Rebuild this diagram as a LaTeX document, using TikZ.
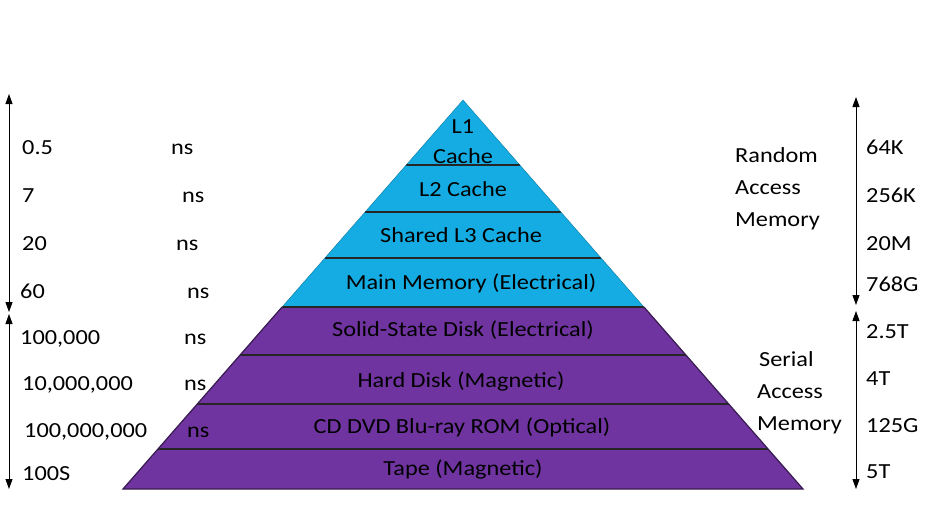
\documentclass[tikz,border=0pt]{standalone}
\usepackage{fontspec}
\setmainfont{Carlito}[FakeStretch=1.13]
\usetikzlibrary{arrows.meta,calc}

\definecolor{ramblue}{RGB}{20,172,226}
\definecolor{serialpurple}{RGB}{112,52,160}

\begin{document}
\begin{tikzpicture}[
    x=1pt, y=-1pt,
    txt/.style={font=\fontsize{21.5}{24}\selectfont, inner sep=0pt},
    lbl/.style={txt, anchor=base},
    val/.style={txt, anchor=base west},
    divider/.style={draw=black!85, line width=1.2pt},
    rangearrow/.style={draw=black, line width=0.9pt, {Triangle[width=7pt,length=10pt]}-{Triangle[width=7pt,length=10pt]}}
]
    \useasboundingbox (0,0) rectangle (946,525);

    % Pyramid
    \coordinate (apex) at (463,100);
    \coordinate (bl) at (123,489);
    \coordinate (br) at (803,489);
    \coordinate (ml) at ($(apex)!0.5321!(bl)$);
    \coordinate (mr) at ($(apex)!0.5321!(br)$);
    \fill[ramblue] (apex) -- (ml) -- (mr) -- cycle;
    \fill[serialpurple] (ml) -- (bl) -- (br) -- (mr) -- cycle;
    \foreach \y in {165,212,258,307,355,404,449}
        \draw[divider] ($(apex)!{(\y-100)/389}!(bl)$) -- ($(apex)!{(\y-100)/389}!(br)$);
    \draw[ramblue!70!black] (ml) -- (apex) -- (mr);
    \draw[serialpurple!50!black, line width=1.2pt] (ml) -- (bl) -- (br) -- (mr);

    % Layer labels
    \node[lbl] (l1a) at (463,133) {L1};
    \node[lbl] (l1b) at (463,163) {Cache};
    \node[lbl] (l2) at (463,196) {L2 Cache};
    \node[lbl] (l3) at (461,242) {Shared L3 Cache};
    \node[lbl] (mainmem) at (471,289) {Main Memory (Electrical)};
    \node[lbl] (ssd) at (463,336) {Solid-State Disk (Electrical)};
    \node[lbl] (hdd) at (461,387) {Hard Disk (Magnetic)};
    \node[lbl] (optical) at (462,433) {CD DVD Blu-ray ROM (Optical)};
    \node[lbl] (tape) at (463,475) {Tape (Magnetic)};

    % Latency column
    \node[val] (t1) at (22,154) {0.5};
    \node[val] (t2) at (22,202) {7};
    \node[val] (t3) at (22,250) {20};
    \node[val] (t4) at (20,298) {60};
    \node[val] (t5) at (20,344) {100,000};
    \node[val] (t6) at (22,390) {10,000,000};
    \node[val] (t7) at (24,437) {100,000,000};
    \node[val] (t8) at (22,480) {100S};

    \node[val] (u1) at (171,154) {ns};
    \node[val] (u2) at (182,202) {ns};
    \node[val] (u3) at (176,250) {ns};
    \node[val] (u4) at (187,298) {ns};
    \node[val] (u5) at (184,344) {ns};
    \node[val] (u6) at (184,390) {ns};
    \node[val] (u7) at (187,437) {ns};

    % Access type
    \node[val] (ram1) at (735,162) {Random};
    \node[val] (ram2) at (735,194) {Access};
    \node[val] (ram3) at (735,226) {Memory};
    \node[val] (sam1) at (759,366) {Serial};
    \node[val] (sam2) at (757,398) {Access};
    \node[val] (sam3) at (757,430) {Memory};

    % Capacity column
    \node[val] (c1) at (866,154) {64K};
    \node[val] (c2) at (866,202) {256K};
    \node[val] (c3) at (866,250) {20M};
    \node[val] (c4) at (866,291) {768G};
    \node[val] (c5) at (866,338) {2.5T};
    \node[val] (c6) at (866,385) {4T};
    \node[val] (c7) at (866,432) {125G};
    \node[val] (c8) at (866,478) {5T};

    % Range arrows
    \coordinate (la) at (9,94);
    \coordinate (lb) at (9,312);
    \coordinate (lc) at (9,314);
    \coordinate (ld) at (9,489);
    \coordinate (ra) at (856,97);
    \coordinate (rb) at (856,305);
    \coordinate (rc) at (856,311);
    \coordinate (rd) at (856,489);
    \path[rangearrow] (la) -- (lb);
    \path[rangearrow] (lc) -- (ld);
    \path[rangearrow] (ra) -- (rb);
    \path[rangearrow] (rc) -- (rd);
\end{tikzpicture}
\end{document}
